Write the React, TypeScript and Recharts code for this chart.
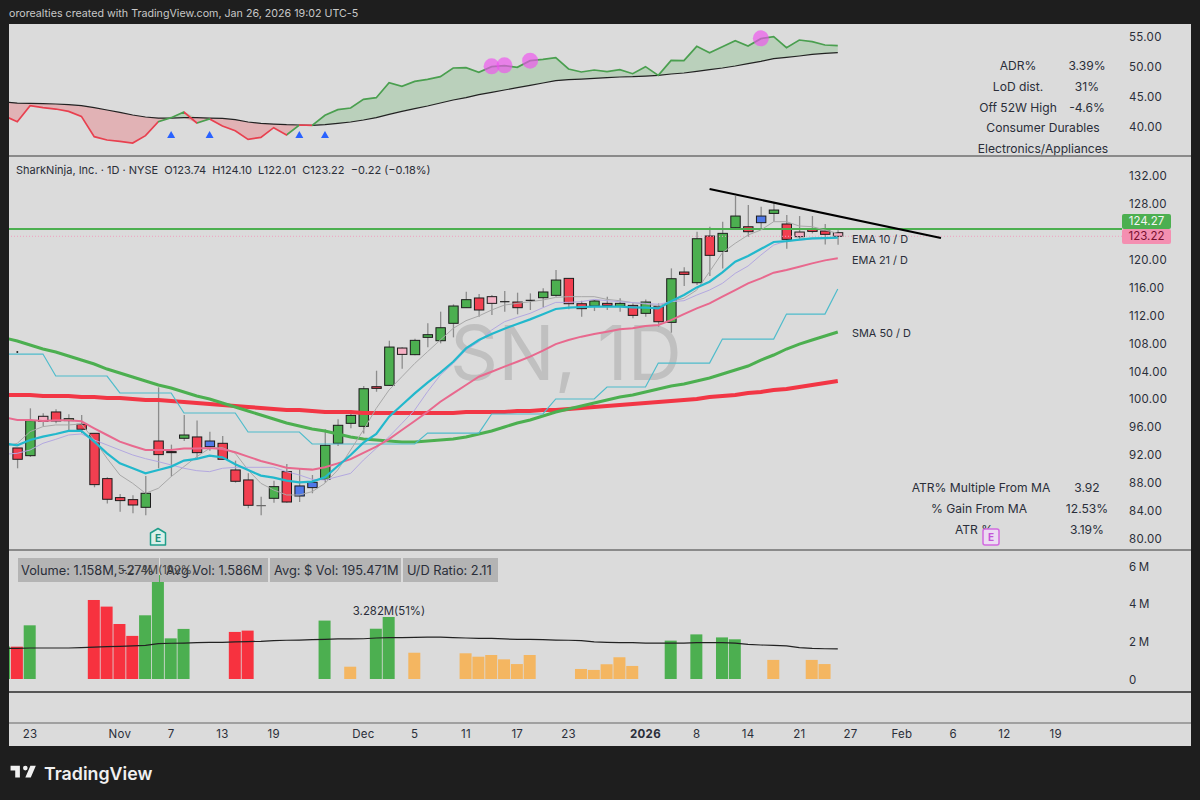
import { Bar, ComposedChart, Area, Line, ReferenceDot, ReferenceLine, XAxis, YAxis } from 'recharts';

const FONT = 'Inter, "Liberation Sans", sans-serif';
const TEXT = '#2a2e39';

// every line series starts one session before the first candle, the plot clips it
const rsLine = [41.67, 40.72, 43.39, 43.06, 42.83, 42.44, 41.61, 38.22, 37.67, 37.44, 37.17, 38.39, 40.72, 41.39, 42.33, 40.5, 41.17, 40, 39.22, 37.78, 38.11, 39.72, 38.5, 40.17, 40.11, 41.78, 42.72, 43, 44.44, 44.72, 47.22, 46.61, 47.44, 47.78, 48.22, 49.67, 49.72, 48.94, 49.89, 50.06, 49.78, 50.89, 51.11, 51.39, 49.5, 49, 49.33, 49.06, 49.39, 48.72, 49.89, 48.44, 50.94, 50.89, 53.28, 52.22, 53.22, 54.22, 53.33, 54.56, 54.89, 53.06, 54.33, 54.06, 53.5, 53.39];
const rsAverage = [44.0, 43.83, 43.78, 43.72, 43.67, 43.56, 43.39, 43.06, 42.67, 42.28, 41.83, 41.5, 41.33, 41.33, 41.39, 41.39, 41.33, 41.28, 41.06, 40.67, 40.44, 40.33, 40.22, 40.17, 40.11, 40.22, 40.44, 40.67, 41, 41.39, 41.94, 42.44, 42.89, 43.33, 43.83, 44.33, 44.72, 45.22, 45.61, 46, 46.39, 46.78, 47.17, 47.56, 47.72, 47.83, 47.94, 48.06, 48.17, 48.22, 48.33, 48.44, 48.67, 48.83, 49.11, 49.39, 49.67, 50, 50.39, 50.78, 51.22, 51.44, 51.67, 51.94, 52.11, 52.22];
const rsUpRuns = [[11, 13], [14, 15], [21, 22], [23, 64]];
const rsTriangles = [[12, 38.6], [15, 38.6], [22, 38.6], [24, 38.6]];
const rsHighs = [[37, 49.94], [38, 50.11], [40, 50.89], [58, 54.61]];
const rsTicks = [40, 45, 50, 55];

const opens = [92.89, 91.79, 97.43, 98.05, 96.81, 96.28, 94.99, 88.5, 85.78, 85.49, 84.39, 93.89, 92.37, 94.28, 94.47, 93.89, 93.56, 89.74, 88.31, 84.63, 85.68, 89.5, 87.45, 87.97, 88.4, 93.56, 96.42, 95.99, 101.67, 101.86, 107.21, 106.26, 108.74, 108.26, 110.75, 112.99, 114.38, 114.57, 113.85, 113.8, 114.04, 114.42, 114.76, 117.19, 113.56, 113.23, 113.61, 113.18, 113.32, 112.18, 113.13, 110.89, 118.1, 116.57, 123.26, 121.06, 124.45, 124.59, 126.12, 126.5, 124.98, 123.83, 124.31, 123.97, 123.74];
const highs = [92.89, 98.57, 97.86, 98.43, 97.72, 97.62, 94.99, 88.69, 86.3, 86.11, 88.88, 101.58, 93.37, 97.62, 96.81, 95.23, 94.61, 91.08, 89.26, 85.92, 88.21, 90.6, 89.98, 89.02, 95.57, 97, 98.33, 101.77, 103.96, 108.26, 107.31, 108.55, 110.75, 112.42, 113.47, 115.28, 114.95, 114.81, 115.38, 115.14, 115.04, 115.76, 118.39, 117.19, 113.99, 114.09, 114.57, 114.33, 113.61, 114.18, 113.61, 118.62, 118.77, 123.88, 124.59, 125.31, 128.99, 127.7, 127.46, 128.03, 126.27, 126.12, 126.12, 124.98, 124.1];
const lows = [89.98, 91.6, 96.04, 96.43, 95.23, 94.99, 87.26, 84.92, 83.77, 83.53, 83.24, 89.98, 88.83, 93.89, 91.36, 92.51, 91.27, 87.92, 84.25, 83.24, 85.06, 85.06, 85.15, 86.4, 87.92, 93.18, 95.7, 94.98, 100.95, 101.77, 104.25, 106.16, 107.31, 107.88, 108.74, 112.99, 111.7, 111.94, 112.42, 112.04, 112.66, 113.04, 114.57, 112.75, 111.7, 112.51, 112.66, 112.42, 111.46, 111.7, 110.27, 109.41, 116.09, 116.24, 117.53, 118.62, 124.21, 123.16, 124.12, 125.31, 121.44, 122.68, 123.64, 122.06, 122.01];
const closes = [91.27, 96.81, 96.71, 96.76, 97.09, 95.57, 87.64, 85.54, 85.35, 84.72, 86.4, 91.94, 92.22, 94.75, 92.22, 93.08, 91.27, 88.12, 84.68, 84.63, 87.35, 85.15, 86.01, 87.21, 93.27, 96.14, 97.56, 101.38, 101.43, 107.35, 106.3, 108.31, 109.12, 110.12, 113.23, 114.14, 112.66, 113.61, 113.85, 112.99, 114.04, 115.24, 116.95, 113.56, 112.85, 113.95, 113.32, 113.61, 111.89, 113.8, 110.98, 117.14, 117.76, 122.87, 120.49, 123.64, 126.12, 123.88, 125.17, 126.98, 122.78, 123.16, 123.92, 123.5, 123.22];
const candleKinds = ('rgprgrrrrr' + 'grrgrbrrrx' + 'grbbggggrg' + 'pgggggrpkr' + 'kggrrgrgrg' + 'rgrgrggrbg' + 'rprrp').split('');

const ema10 = [93.56, 93.27, 94.04, 94.52, 94.9, 95.33, 95.33, 93.8, 92.13, 90.69, 89.98, 89.26, 89.74, 90.22, 91.08, 91.32, 91.79, 91.55, 90.55, 89.74, 88.93, 88.64, 88.21, 87.97, 88.07, 88.69, 90.31, 91.88, 93.65, 94.89, 97.37, 99.04, 100.72, 102.24, 103.68, 105.25, 107.16, 108.36, 109.22, 109.98, 110.65, 111.32, 112.04, 112.8, 112.99, 113.09, 113.13, 113.13, 113.13, 113.04, 112.99, 112.89, 113.9, 114.8, 115.9, 116.71, 118.05, 119.58, 120.39, 121.39, 122.4, 122.54, 122.73, 122.92, 122.97, 123.02];
const ema21 = [97.29, 96.9, 96.9, 96.76, 96.86, 96.86, 96.71, 95.71, 94.75, 93.8, 93.18, 92.6, 92.6, 92.6, 92.8, 92.8, 92.89, 92.75, 92.27, 91.65, 91.03, 90.55, 90.07, 89.93, 89.79, 90.12, 90.69, 91.3, 92.2, 93.07, 94.17, 95.46, 96.75, 98.09, 99.52, 100.72, 101.91, 103.1, 103.82, 104.54, 105.25, 105.97, 106.83, 107.78, 108.36, 108.84, 109.22, 109.55, 109.89, 110.03, 110.36, 110.51, 111.2, 112.06, 112.89, 113.6, 114.57, 115.52, 116.48, 117.19, 118.01, 118.39, 118.86, 119.34, 119.77, 120.06];
const sma50 = [108.65, 108.21, 107.64, 107.07, 106.64, 106.07, 105.49, 104.92, 104.2, 103.63, 103.06, 102.48, 101.91, 101.48, 100.91, 100.34, 99.91, 99.33, 98.76, 98.19, 97.61, 97.04, 96.47, 96.04, 95.61, 95.32, 94.89, 94.46, 94.17, 94.03, 93.89, 93.74, 93.74, 93.89, 94.03, 94.17, 94.46, 94.89, 95.32, 95.89, 96.47, 96.9, 97.47, 98.04, 98.47, 98.9, 99.33, 99.76, 100.19, 100.48, 100.91, 101.34, 101.77, 102.05, 102.48, 102.91, 103.49, 104.06, 104.63, 105.49, 106.21, 107.07, 107.78, 108.36, 108.93, 109.5];
const sma200 = [100.48, 100.48, 100.48, 100.34, 100.34, 100.34, 100.19, 100.19, 100.05, 100.05, 99.91, 99.76, 99.76, 99.62, 99.48, 99.33, 99.19, 99.05, 98.9, 98.76, 98.62, 98.47, 98.33, 98.33, 98.19, 98.04, 98.04, 98.04, 97.9, 97.9, 97.9, 97.9, 97.9, 97.9, 97.9, 97.9, 98.04, 98.04, 98.04, 98.04, 98.19, 98.19, 98.33, 98.33, 98.47, 98.62, 98.76, 98.9, 99.05, 99.19, 99.33, 99.48, 99.62, 99.76, 99.91, 100.19, 100.34, 100.48, 100.77, 100.91, 101.2, 101.34, 101.63, 101.91, 102.2, 102.48];
const fastAverage = [93.08, 93.56, 95.23, 95.95, 96.19, 96.19, 96.33, 94.04, 91.41, 89.02, 87.83, 86.4, 87.11, 88.78, 90.22, 91.65, 92.84, 92.94, 92.13, 89.74, 87.83, 86.87, 86.16, 86.16, 86.63, 87.83, 89.74, 92.6, 95.46, 98.57, 101.2, 103.1, 105, 106.69, 108.36, 110.03, 111.13, 111.8, 112.66, 113.37, 113.61, 113.85, 114.09, 114.47, 114.57, 114.57, 114.57, 114.18, 113.99, 113.71, 113.52, 113.23, 113.9, 114.33, 115.52, 118.15, 120.87, 122.21, 123.4, 124.12, 125.31, 125.31, 124.69, 124.6, 124.12, 123.64];
const midAverage = [91.98, 92.13, 92.6, 93.56, 94.13, 94.75, 94.9, 94.04, 93.32, 92.6, 91.89, 91.36, 90.93, 90.46, 89.98, 89.64, 89.5, 89.98, 90.12, 90.12, 90.12, 90.12, 89.5, 89.02, 88.4, 88.31, 88.78, 89.25, 91.16, 92.84, 94.51, 96.42, 98.33, 100.96, 103.34, 105, 106.92, 108.12, 109.79, 110.98, 111.6, 112.18, 112.99, 113.75, 113.75, 113.85, 114.18, 113.99, 113.85, 113.71, 113.61, 113.47, 113.85, 113.99, 114.8, 115.52, 116.48, 117.91, 118.96, 120.53, 121.97, 122.54, 122.68, 122.83, 122.92, 123.02];
const stopLine = [106.35, 106.35, 106.35, 106.35, 103.2, 103.2, 103.2, 103.2, 103.2, 100.77, 100.77, 100.77, 100.77, 100.77, 97.9, 97.9, 97.9, 97.9, 97.9, 95.18, 95.18, 95.18, 95.18, 95.18, 93.46, 93.46, 93.46, 93.46, 93.46, 93.46, 93.46, 93.46, 93.46, 95.03, 95.03, 95.03, 95.03, 95.03, 97.76, 97.76, 97.76, 97.76, 97.76, 99.91, 99.91, 99.91, 99.91, 101.63, 101.63, 101.63, 101.63, 105.06, 105.06, 105.06, 105.06, 105.06, 108.5, 108.5, 108.5, 108.5, 108.5, 112.08, 112.08, 112.08, 112.08, 115.67];
const priceTicks = [80, 84, 88, 92, 96, 100, 104, 108, 112, 116, 120, 128, 132];

// sessions under the volume threshold are left out, as in the source layout
const volumes = [1.72, 1.71, 2.84, null, null, null, null, 4.18, 3.83, 2.91, 2.28, 3.37, 5.5, 2.15, 2.65, null, null, null, 2.49, 2.56, null, null, null, null, null, 3.09, null, 0.65, null, 2.66, 3.28, null, 1.39, null, null, null, 1.36, 1.18, 1.27, 1.04, 0.79, 1.27, null, null, null, 0.53, 0.48, 0.78, 1.15, 0.69, null, null, 2.03, null, 2.36, null, 2.2, 2.1, null, null, 1.01, null, null, 1.01, 0.79, null];
const volumeKinds = 'grg....rrrrgggg...rr.....g.o.gg.o...oooooo...ooooo..g.g.gg..o..oo.'.split('');
const volumeAverage = [1.62, 1.62, 1.64, 1.64, 1.64, 1.64, 1.66, 1.69, 1.71, 1.73, 1.75, 1.78, 1.87, 1.89, 1.9, 1.92, 1.94, 1.94, 1.96, 1.98, 1.99, 2.03, 2.05, 2.06, 2.08, 2.1, 2.12, 2.12, 2.13, 2.17, 2.19, 2.19, 2.2, 2.22, 2.22, 2.19, 2.17, 2.15, 2.15, 2.12, 2.1, 2.1, 2.08, 2.06, 2.05, 2.03, 1.96, 1.94, 1.92, 1.92, 1.9, 1.9, 1.9, 1.9, 1.92, 1.92, 1.92, 1.9, 1.83, 1.8, 1.78, 1.75, 1.66, 1.62, 1.6, 1.59];
const volumeTicks = [0, 2, 4, 6];

const dateTicks = [1, 8, 12, 16, 20, 27, 31, 35, 39, 43, 49, 53, 57, 61, 65, 69, 73, 77, 81];
const dateLabels = ['23', 'Nov', '7', '13', '19', 'Dec', '5', '11', '17', '23', '2026', '8', '14', '21', '27', 'Feb', '6', '12', '19'];

const CANDLE_FILL: Record<string, string> = { g: '#4caf50', r: '#f23f50', p: '#f5b0c4', b: '#4f78e8' };
const VOLUME_FILL: Record<string, string> = { g: '#4caf50', r: '#f7323f', o: '#f4b661' };

const X_DOMAIN: [number, number] = [-0.647, 86.17];

const rsRows = rsLine.map((value, k) => ({
  day: k - 1,
  rs: value,
  average: rsAverage[k],
  above: [rsAverage[k], Math.max(value, rsAverage[k])],
  below: [Math.min(value, rsAverage[k]), rsAverage[k]],
}));

const priceRows = ema10.map((value, k) => ({
  day: k - 1,
  ema10: value,
  ema21: ema21[k],
  sma50: sma50[k],
  sma200: sma200[k],
  fast: fastAverage[k],
  mid: midAverage[k],
  stop: stopLine[k],
  range: k === 0 ? null : [lows[k - 1], highs[k - 1]],
  open: opens[k - 1],
  close: closes[k - 1],
  kind: candleKinds[k - 1],
}));

const volumeRows = volumes.map((value, k) => ({
  day: k - 1,
  volume: value,
  kind: volumeKinds[k],
  average: volumeAverage[k],
}));

// hard colour stops so each segment of the line takes its own colour
const rsStops = rsUpRuns.flatMap(([from, to], n) => {
  const a = (from + 1) / 65;
  const b = (to + 1) / 65;
  const prev = n === 0 ? 0 : (rsUpRuns[n - 1][1] + 1) / 65;
  return [
    <stop key={`a${n}`} offset={prev} stopColor="#e8404f" />,
    <stop key={`b${n}`} offset={a} stopColor="#e8404f" />,
    <stop key={`c${n}`} offset={a} stopColor="#4a9f4f" />,
    <stop key={`d${n}`} offset={b} stopColor="#4a9f4f" />,
  ];
});

function Candle(props: any) {
  const { x, y, width, height, payload } = props;
  if (!payload.range) return null;
  const [low, high] = payload.range;
  const perUnit = height / (high - low);
  const top = y + (high - Math.max(payload.open, payload.close)) * perUnit;
  const bottom = y + (high - Math.min(payload.open, payload.close)) * perUnit;
  const mid = x + width / 2;
  const isFlat = payload.open === payload.close;
  return (
    <g>
      <line x1={mid} x2={mid} y1={y} y2={y + height} stroke="#8c8c8c" strokeWidth={1.3} />
      {isFlat ? (
        <line x1={x} x2={x + width} y1={top} y2={top} stroke={payload.kind === 'x' ? '#666' : '#222'} strokeWidth={1.2} />
      ) : (
        <rect x={x} y={top} width={width} height={Math.max(bottom - top, 1)} fill={CANDLE_FILL[payload.kind]} stroke="#1c1c1c" strokeWidth={1} />
      )}
    </g>
  );
}

function VolumeBar(props: any) {
  const { x, y, width, height, payload } = props;
  if (payload.volume == null) return null;
  return <rect x={x} y={y} width={width} height={height} fill={VOLUME_FILL[payload.kind]} />;
}

function DateTick(props: any) {
  const { x, y, payload } = props;
  const label = dateLabels[dateTicks.indexOf(payload.value)];
  const isYear = label === '2026';
  return (
    <text x={x} y={y + 39} textAnchor="middle" fontFamily={FONT} fontSize={11.5} fontWeight={isYear ? 700 : 400} fill={TEXT} letterSpacing={0.3}>
      {label}
    </text>
  );
}

function Label({ x, y, text, anchor = 'center', size = 12.1, color = TEXT, weight = 400 }: any) {
  const shift = anchor === 'center' ? 'translate(-50%, -50%)' : 'translate(0, -50%)';
  return (
    <div style={{ position: 'absolute', left: x, top: y + 1, transform: shift, fontFamily: FONT, fontSize: size, color, fontWeight: weight, whiteSpace: 'pre', lineHeight: 1 }}>
      {text}
    </div>
  );
}

function Rule({ y, color, height = 2 }: any) {
  return <div style={{ position: 'absolute', left: 9, width: 1182, top: y, height, background: color }} />;
}

function LegendBox({ x, width }: any) {
  return <div style={{ position: 'absolute', left: x, top: 558, width, height: 24, background: '#b4b4b4' }} />;
}

const yTick = { fontFamily: FONT, fontSize: 11.5, fill: TEXT, letterSpacing: 0.3, dy: 1 };

export default function App() {
  return (
    <div style={{ position: 'absolute', left: 0, top: 0, width: 1200, height: 800, background: '#1e1e1e', overflow: 'hidden' }}>
      <Label x={9} y={13} anchor="start" size={10.7} color="#c8c8c8" text="ororealties created with TradingView.com, Jan 26, 2026 19:02 UTC-5" />
      <div style={{ position: 'absolute', left: 9, top: 24, width: 1182, height: 722, background: '#dbdbdb' }} />

      <Rule y={155} color="#8a8a8a" />
      <Rule y={548.5} color="#8a8a8a" />
      <Rule y={691} color="#555555" height={1.5} />
      <Rule y={722} color="#a0a0a0" />

      <Label x={566} y={351} text="SN, 1D" size={75} color="#c0c0c0" />

      <div style={{ position: 'absolute', left: 9, top: 24 }}>
        <ComposedChart width={1182} height={131} data={rsRows} margin={{ top: 0, right: 0, bottom: 0, left: 0 }}>
          <defs>
            <linearGradient id="rsStroke" x1="0" x2="1" y1="0" y2="0">
              {rsStops}
              <stop offset={1} stopColor="#4a9f4f" />
            </linearGradient>
          </defs>
          <XAxis dataKey="day" type="number" domain={X_DOMAIN} allowDataOverflow hide />
          <YAxis orientation="right" width={69} domain={[35.17, 57]} allowDataOverflow ticks={rsTicks} axisLine={false} tickLine={false} tick={yTick} tickMargin={1} tickFormatter={(v: number) => v.toFixed(2)} />
          <Area dataKey="above" stroke="none" fill="#4caf50" fillOpacity={0.23} isAnimationActive={false} dot={false} activeDot={false} />
          <Area dataKey="below" stroke="none" fill="#f23645" fillOpacity={0.25} isAnimationActive={false} dot={false} activeDot={false} />
          <Line dataKey="average" stroke="#222" strokeWidth={1.2} dot={false} isAnimationActive={false} />
          <Line dataKey="rs" stroke="url(#rsStroke)" strokeWidth={1.7} dot={false} isAnimationActive={false} />
          {rsTriangles.map(([day, value]) => (
            <ReferenceDot key={day} x={day} y={value} shape={(p: any) => <path d={`M${p.cx} ${p.cy - 3.5}L${p.cx + 4} ${p.cy + 3.5}L${p.cx - 4} ${p.cy + 3.5}Z`} fill="#2962ff" />} />
          ))}
          {rsHighs.map(([day, value]) => (
            <ReferenceDot key={day} x={day} y={value} r={8} fill="#f050f0" fillOpacity={0.65} stroke="none" />
          ))}
        </ComposedChart>
      </div>

      <div style={{ position: 'absolute', left: 9, top: 157 }}>
        <ComposedChart width={1182} height={391} data={priceRows} margin={{ top: 0, right: 0, bottom: 0, left: 0 }}>
          <XAxis dataKey="day" type="number" domain={X_DOMAIN} allowDataOverflow hide />
          <YAxis orientation="right" width={69} domain={[78.56, 134.58]} allowDataOverflow ticks={priceTicks} axisLine={false} tickLine={false} tick={yTick} tickMargin={1} tickFormatter={(v: number) => v.toFixed(2)} />
          <ReferenceLine y={124.27} stroke="#4caf50" strokeWidth={2} />
          <ReferenceLine y={123.22} stroke="#f0a0c0" strokeWidth={1} strokeDasharray="1 2" />
          <Line dataKey="sma200" stroke="#f23645" strokeWidth={4} dot={false} isAnimationActive={false} />
          <Line dataKey="sma50" stroke="#4caf50" strokeWidth={3} dot={false} isAnimationActive={false} />
          <Line dataKey="stop" stroke="#4fbccb" strokeWidth={1.2} dot={false} isAnimationActive={false} />
          <Line dataKey="fast" stroke="#a8a8a8" strokeWidth={1} dot={false} isAnimationActive={false} />
          <Line dataKey="mid" stroke="#b3a8e0" strokeWidth={1} dot={false} isAnimationActive={false} />
          <Line dataKey="ema21" stroke="#e8698e" strokeWidth={2} dot={false} isAnimationActive={false} />
          <Line dataKey="ema10" stroke="#22b8cc" strokeWidth={2.2} dot={false} isAnimationActive={false} />
          <Bar dataKey="range" barSize={9.4} shape={Candle} isAnimationActive={false} />
          <ReferenceLine segment={[{ x: 54, y: 129.99 }, { x: 72.05, y: 122.97 }]} stroke="#000" strokeWidth={2} />
          <ReferenceDot x={0} y={106.64} r={1} fill="#222" stroke="none" />
        </ComposedChart>
      </div>

      <div style={{ position: 'absolute', left: 9, top: 550 }}>
        <ComposedChart width={1182} height={196} data={volumeRows} margin={{ top: 0, right: 0, bottom: 0, left: 0 }}>
          <XAxis dataKey="day" type="number" domain={X_DOMAIN} allowDataOverflow ticks={dateTicks} height={55} axisLine={false} tickLine={false} tick={DateTick} interval={0} />
          <YAxis orientation="right" width={69} domain={[-0.635, 6.825]} allowDataOverflow ticks={volumeTicks} axisLine={false} tickLine={false} tick={yTick} tickMargin={1} tickFormatter={(v: number) => (v === 0 ? '0' : `${v}\u2009M`)} />
          <Bar dataKey="volume" barSize={12} shape={VolumeBar} isAnimationActive={false} />
          <Line dataKey="average" stroke="#222" strokeWidth={1.2} dot={false} isAnimationActive={false} />
        </ComposedChart>
      </div>

      <Label x={16} y={169} anchor="start" size={11} text="SharkNinja, Inc. · 1D · NYSE  O123.74  H124.10  L122.01  C123.22  −0.22 (−0.18%)" />

      <Label x={852} y={238} anchor="start" size={10.9} text="EMA 10 / D" />
      <Label x={852} y={259} anchor="start" size={10.9} text="EMA 21 / D" />
      <Label x={852} y={332} anchor="start" size={10.9} text="SMA 50 / D" />

      <div style={{ position: 'absolute', left: 1122, top: 214, width: 49, height: 15, background: '#4caf50', borderRadius: 2 }} />
      <div style={{ position: 'absolute', left: 1122, top: 229, width: 49, height: 15, background: '#f48fb1', borderRadius: 2 }} />
      <Label x={1146.5} y={220.5} size={11.5} color="#f4f4f4" text="124.27" />
      <Label x={1146.5} y={236} size={11.5} color="#7a1030" text="123.22" />

      <Label x={1018} y={64.5} text="ADR%" />
      <Label x={1087} y={64.5} text="3.39%" />
      <Label x={1018} y={85.5} text="LoD dist." />
      <Label x={1087} y={85.5} text="31%" />
      <Label x={1018} y={106.5} text="Off 52W High" />
      <Label x={1087} y={106.5} text="-4.6%" />
      <Label x={1043} y={127} text="Consumer Durables" />
      <Label x={1043} y={148} text="Electronics/Appliances" />

      <Label x={981} y={486.5} text="ATR% Multiple From MA" />
      <Label x={1087} y={486.5} text="3.92" />
      <Label x={979} y={507.5} text="% Gain From MA" />
      <Label x={1087} y={507.5} text="12.53%" />
      <Label x={974} y={528.5} text="ATR %" />
      <Label x={1087} y={528.5} text="3.19%" />

      <svg style={{ position: 'absolute', left: 148, top: 527 }} width={20} height={20}>
        <path d="M10 1.5L17.5 6V18H2.5V6Z" fill="#dbf0ea" stroke="#1f9e8a" strokeWidth={1.5} strokeLinejoin="round" />
        <text x={10} y={14.5} textAnchor="middle" fontFamily={FONT} fontSize={10} fontWeight={700} fill="#1f8e7c">E</text>
      </svg>
      <svg style={{ position: 'absolute', left: 982, top: 528 }} width={18} height={18}>
        <rect x={1} y={1} width={16} height={16} rx={2} fill="#ecdcf2" stroke="#d269e0" strokeWidth={1.5} />
        <text x={9} y={13} textAnchor="middle" fontFamily={FONT} fontSize={10} fontWeight={700} fill="#c455d8">E</text>
      </svg>

      <LegendBox x={18} width={141} />
      <LegendBox x={160} width={108} />
      <LegendBox x={270} width={131} />
      <LegendBox x={403} width={95} />
      <Label x={21} y={570} anchor="start" size={12.8} text="Volume: 1.158M, -27%" />
      <Label x={166} y={570} anchor="start" size={12.8} text="Avg Vol: 1.586M" />
      <Label x={274} y={570} anchor="start" size={12.8} text="Avg: $ Vol: 195.471M" />
      <Label x={407} y={570} anchor="start" size={12.8} text="U/D Ratio: 2.11" />
      <Label x={157} y={569.5} size={11.4} color="#444" text="5.274M(192%)" />
      <Label x={389} y={611} size={11.4} text="3.282M(51%)" />

      <svg style={{ position: 'absolute', left: 9, top: 761 }} width={28} height={22} viewBox="0 0 36 28">
        <path d="M14 6H2v6h6v9h6V6zm14 15h-7l6.5-15h7L28 21zm-7-9a3 3 0 1 0 0-6 3 3 0 0 0 0 6z" fill="#f0f0f0" />
      </svg>
      <Label x={44} y={772.5} anchor="start" size={17.8} weight={600} color="#f0f0f0" text="TradingView" />
    </div>
  );
}
